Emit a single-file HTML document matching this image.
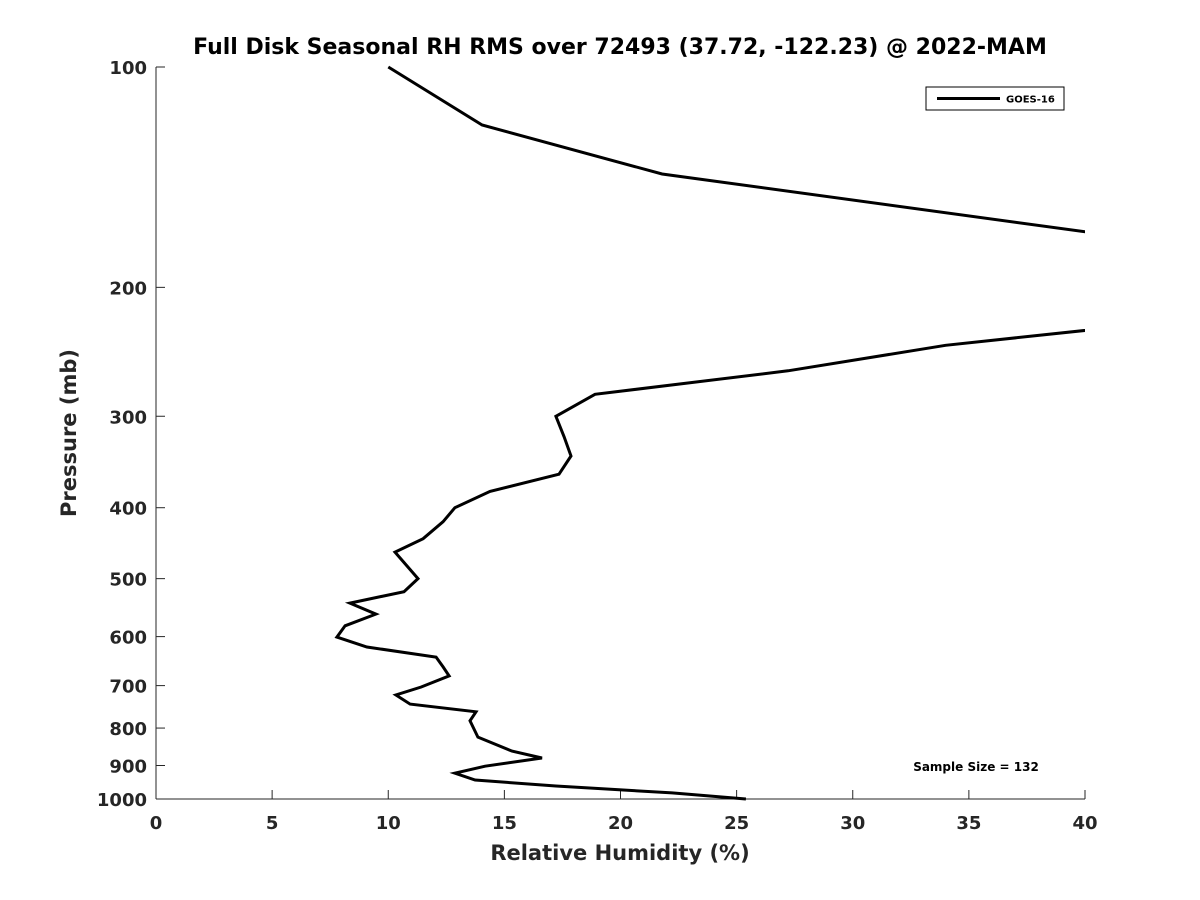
<!DOCTYPE html>
<html><head><meta charset="utf-8">
<style>
html,body{margin:0;padding:0;background:#fff;}
svg{display:block;font-family:"DejaVu Sans","Liberation Sans",sans-serif;}
.tick{font-size:18px;font-weight:bold;fill:#262626;}
</style></head>
<body>
<svg id="chart" width="1200" height="900" viewBox="0 0 1200 900">
<defs><clipPath id="plotclip"><rect x="156" y="60" width="929" height="745"/></clipPath></defs>
<text x="620" y="54" text-anchor="middle" font-size="22" font-weight="bold" fill="#000">Full Disk Seasonal RH RMS over 72493 (37.72, -122.23) @ 2022-MAM</text>
<g id="axes"></g>
<g id="series" clip-path="url(#plotclip)"></g>
<text x="620" y="860" text-anchor="middle" font-size="21" font-weight="bold" fill="#262626">Relative Humidity (%)</text>
<text transform="translate(76,433) rotate(-90)" text-anchor="middle" font-size="21" font-weight="bold" fill="#262626">Pressure (mb)</text>
<g>
<rect x="926" y="87" width="138" height="23" fill="#fff" stroke="#000" stroke-width="1"/>
<line x1="937" y1="98.5" x2="1000" y2="98.5" stroke="#000" stroke-width="3"/>
<text x="1006" y="102.5" font-size="10" font-weight="bold" fill="#000">GOES-16</text>
</g>
<text x="976" y="771" text-anchor="middle" font-size="12" font-weight="bold" fill="#000">Sample Size = 132</text>
</svg>
<script>
const xTicks=[0,5,10,15,20,25,30,35,40];
const yTicks=[100,200,300,400,500,600,700,800,900,1000];
const rhValues=[10.0,14.04,21.79,60,60,34.0,27.21,18.90,17.22,17.57,17.87,17.35,14.38,12.87,12.36,11.50,10.29,11.28,10.68,8.35,9.47,8.14,7.79,9.08,12.06,12.36,12.62,11.42,10.33,10.94,13.78,13.52,13.86,15.33,16.62,14.17,12.87,13.74,17.22,22.22,25.40];
const pressures=[100,120,140,205,196,240,260,280,300,320,340,360,380,400,418,441,460,500,521,540,559,580,601,620,640,660,679,703,721,742,760,782,823,860,879,902,922,942,960,981,1000];
const NS='http://www.w3.org/2000/svg';
const X0=156,X1=1085,Y0=67,Y1=799;
function xs(v){return X0+(v-0)/(40-0)*(X1-X0);}
function ys(p){return Y0+(Math.log10(p)-2)/(3-2)*(Y1-Y0);}
function mk(t,a,parent){const e=document.createElementNS(NS,t);for(const k in a)e.setAttribute(k,a[k]);parent.appendChild(e);return e;}
const axes=document.getElementById('axes');
let ax=mk('line',{x1:X0,y1:Y1,x2:X1,y2:Y1,stroke:'#262626','stroke-width':1},axes);


let ay=mk('line',{x1:X0,y1:Y0,x2:X0,y2:Y1,stroke:'#262626','stroke-width':1},axes);


xTicks.forEach(v=>{
 const x=xs(v);
 const t=mk('line',{x1:x,y1:Y1,x2:x,y2:Y1-9,stroke:'#262626','stroke-width':1},axes);
 
 
 const l=mk('text',{x:x,y:Y1+30,'text-anchor':'middle',class:'tick'},axes);
 l.textContent=v;
 
 
});
yTicks.forEach(p=>{
 const y=ys(p);
 const t=mk('line',{x1:X0,y1:y,x2:X0+9,y2:y,stroke:'#262626','stroke-width':1},axes);
 
 
 const l=mk('text',{x:X0-9,y:y+7,'text-anchor':'end',class:'tick'},axes);
 l.textContent=p;
 
 
});
const pts=rhValues.map((v,i)=>xs(v).toFixed(1)+','+ys(pressures[i]).toFixed(1)).join(' ');
const line=mk('polyline',{points:pts,fill:'none',stroke:'#000','stroke-width':3,'stroke-linejoin':'miter'},document.getElementById('series'));


</script>
</body></html>
